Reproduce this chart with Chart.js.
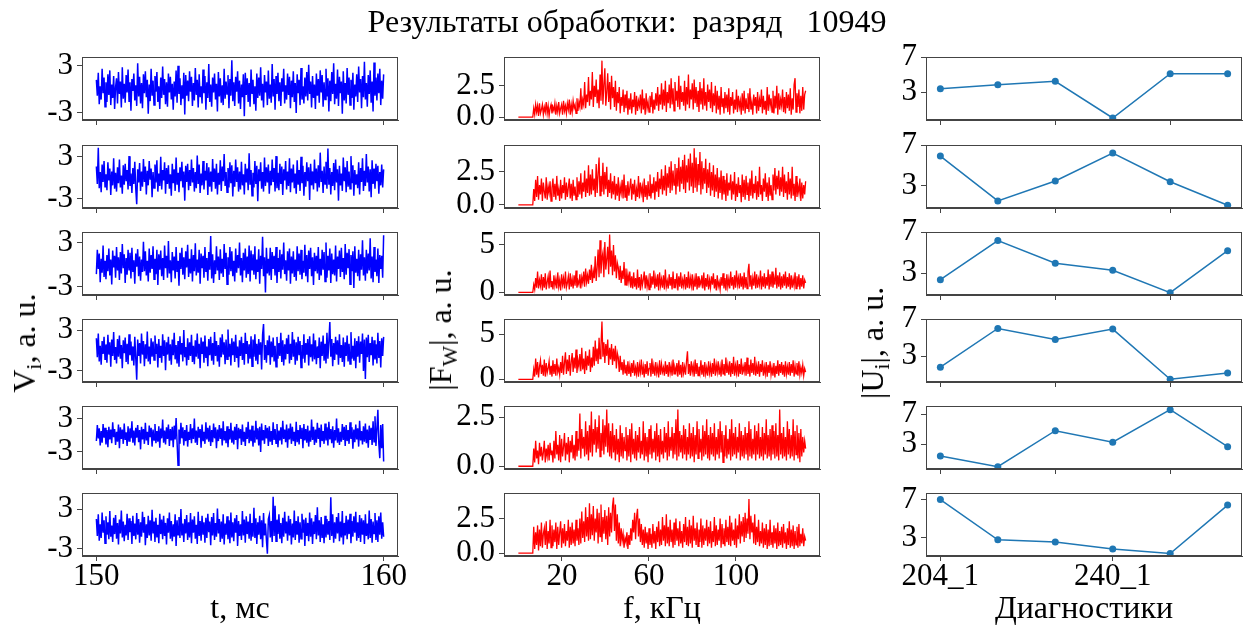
<!DOCTYPE html>
<html lang="ru">
<head>
<meta charset="UTF-8">
<title>Результаты обработки</title>
<script src="https://cdn.jsdelivr.net/npm/chart.js@4"></script>
<style>
  body { margin: 0; background: #fff; font-family: 'Liberation Serif', serif; }
  #page { position: relative; width: 1250px; height: 626px; overflow: hidden; background: #fff; }
  #page canvas { position: absolute; }
  .txt { position: absolute; white-space: pre; color: #000; font-size: 32px; line-height: 1; z-index: 2; }
  .title { left: 627px; top: 5px; transform: translateX(-50%); }
  .xlab { top: 591px; transform: translateX(-50%); }
  .ylab { transform: translate(-50%, -50%) rotate(-90deg); }
  sub { font-size: 0.68em; vertical-align: -0.28em; line-height: 0; }
</style>
</head>
<body>
<div id="page">
  <div class="txt title">Результаты обработки:  разряд   10949</div>
  <div class="txt xlab" style="left:240px">t, мс</div>
  <div class="txt xlab" style="left:662px">f, кГц</div>
  <div class="txt xlab" style="left:1084px">Диагностики</div>
  <div class="txt ylab" style="left:24px; top:343px">V<sub>i</sub>, a. u.</div>
  <div class="txt ylab" style="left:440px; top:330px">|F<sub>W</sub>|, a. u.</div>
  <div class="txt ylab" style="left:872px; top:343px">|U<sub>i</sub>|, a. u.</div>
</div>
<script>
// time window of the signals (ms) and frequency window of the spectra (kHz)
const tRange = [150, 160];
const fRange = [0, 132];

// signals V_i, one per row
const sig1 = [1.2,-0.8,2.1,-1.9,0.4,-1.3,2.6,-0.5,1.5,-2.2,0.9,-1.6,1.9,-0.7,2.4,-2.0,0.6,-1.1,1.7,-2.5,
  0.3,1.4,-1.8,2.2,-0.6,1.0,-2.3,2.8,-1.2,0.7,-1.7,1.8,-0.4,2.5,-1.5,0.9,-2.7,1.3,-0.2,2.0,
  -1.4,0.5,-2.1,3.3,-0.9,1.6,-1.8,0.8,-2.4,1.9,-0.5,2.3,-1.0,1.2,-3.1,0.6,-1.5,2.6,-0.8,1.1,
  -2.0,1.7,-0.3,2.2,-1.6,0.4,-2.5,1.5,-1.1,2.9,-0.7,1.3,-1.9,0.9,-2.2,2.0,-0.4,1.6,-1.3,0.7,
  -2.6,1.0,-0.9,2.4,-1.7,3.0,-0.6,1.4,-2.0,0.5,-1.2,2.1,-3.2,1.8,-0.8,1.1,-1.5,2.3,-0.3,1.6,
  -2.1,0.8,-1.4,2.7,-0.7,1.2,-2.3,1.9,-1.0,0.4,-1.8,2.5,-0.5,1.7,-2.6,0.9,-1.1,3.2,-1.6,0.6,
  -2.2,1.5,-0.4,2.0,-1.3,0.7,-2.8,2.2,-0.9,1.4,-1.7,0.5,-2.0,2.6,-1.2,1.0,-0.6,1.8,-2.4,1.3,
  -0.8,3.7,-1.5,0.9,-2.1,1.6,-0.3,2.3,-1.8,1.1,-2.5,0.6,-1.0,1.9,-3.4,2.1,-0.7,1.4,-1.6,0.8,
  -2.2,2.5,-0.5,1.2,-1.9,0.4,-2.7,2.0,-1.1,1.5,-0.8,2.8,-1.4,0.7,-2.3,1.8,-0.4,1.0,-2.0,2.4,
  -1.2,0.6,-1.7,3.2,-0.9,1.3,-2.6,1.7,-0.6,2.1,-1.5,0.9,-2.1,1.4,-0.3,2.6,-1.8,0.5,-1.3,2.0,
  -0.7,1.6,-2.4,1.1,-1.0,2.3,-1.6,0.8,-3.0,1.9,-0.5,1.2,-2.0,2.7,-1.3,0.4,-1.8,1.5,-0.9,2.2,
  -1.4,3.1,-0.6,1.0,-2.3,1.7,-1.1,0.6,-2.5,2.0,-0.8,1.3,-1.7,2.4,-0.4,1.8,-2.2,0.9,-1.3,2.6,
  -0.9,1.4,-2.8,1.1,-1.5,2.2,-0.6,3.3,-1.9,0.7,-1.2,2.5,-2.1,1.6,-0.5,1.0,-3.1,2.3,-1.4,0.8,
  -1.8,2.7,-0.7,1.5,-2.0,1.2,-1.1,2.1,-2.6,0.6,-0.9,1.9,-1.6,2.9,-0.4,1.3,-2.4,1.7,-1.0,3.5,
  -1.3,0.8,-2.2,1.8,-0.6,2.4,-1.7,1.0,-2.8,3.4,-0.8,1.5,-1.4,2.0,-0.5,2.6,-2.0,1.1,-1.2,1.9];
const sig2 = [1.6,-0.9,4.3,-1.5,0.8,-2.1,1.9,-0.6,2.4,-1.3,0.5,-1.8,2.2,-0.4,1.3,-2.5,0.9,-1.1,2.8,-1.6,
  0.7,-2.0,1.5,-0.8,2.6,-1.4,0.3,-2.3,1.8,-1.0,2.0,-0.5,1.1,-1.7,3.1,-1.2,0.6,-2.2,1.4,-0.9,
  2.3,-1.6,-3.8,1.2,-0.7,2.1,-1.9,0.9,-1.3,2.7,-0.6,1.6,-2.4,1.0,-1.1,2.4,-0.3,1.3,-2.8,0.8,
  -1.5,1.9,-0.7,2.5,-2.0,0.6,-1.2,3.0,-1.7,1.1,-0.4,2.2,-2.3,1.4,-0.9,1.8,-1.6,0.5,-2.6,2.0,
  -0.8,1.2,-1.9,2.9,-1.0,0.7,-2.1,1.5,-0.5,2.3,-1.4,0.9,-3.3,1.7,-0.6,2.0,-1.8,1.1,-1.2,2.6,
  -0.7,1.4,-2.0,0.8,-1.5,3.2,-0.9,1.9,-2.2,0.6,-1.1,2.4,-1.7,1.0,-0.4,2.1,-2.5,1.5,-1.3,0.9,
  -2.0,2.7,-0.6,1.3,-1.6,2.0,-2.4,0.7,-1.0,2.5,-1.9,1.6,-0.5,3.4,-1.2,0.8,-2.1,1.4,-1.4,2.2,
  -0.8,1.8,-2.7,1.0,-1.3,2.6,-0.6,1.5,-2.0,0.9,-1.7,2.3,-1.1,0.5,-2.4,2.0,-0.7,1.3,-1.8,3.5,
  -1.0,1.1,-2.6,0.7,-1.4,2.4,-0.9,1.7,-3.4,1.2,-0.5,2.2,-1.6,0.8,-2.0,2.9,-1.2,1.5,-0.7,1.9,
  -2.3,1.0,-1.1,2.6,-0.6,1.4,-2.0,3.1,-1.5,0.7,-1.8,2.0,-0.9,1.6,-2.5,1.2,-0.4,2.4,-1.7,0.9,
  -1.2,2.8,-2.1,1.3,-0.7,1.9,-1.5,0.6,-2.3,2.5,-1.0,1.1,-1.9,3.0,-0.8,1.7,-2.6,0.8,-1.3,2.2,
  -0.5,1.5,-3.2,2.0,-1.1,0.9,-1.7,2.6,-0.8,1.3,-2.0,1.8,-1.4,3.6,-0.6,1.0,-2.2,1.6,-0.9,2.3,
  -1.6,4.2,-1.0,1.4,-2.4,0.8,-1.2,2.1,-1.8,2.6,-0.7,1.2,-3.3,1.7,-1.1,0.6,-1.9,2.9,-0.5,1.5,
  -2.1,2.4,-1.3,0.9,-1.6,3.1,-0.8,1.8,-2.6,1.1,-1.0,0.5,-1.5,2.2,-2.4,1.4,-0.6,2.8,-1.9,1.0,
  -1.2,3.4,-0.7,1.6,-2.0,1.2,-2.8,2.5,-0.9,1.3,-1.6,2.0,-0.5,1.7,-2.3,0.8,-1.1,1.9,-1.4,1.2];
const sig3 = [-1.3,2.0,-0.6,1.5,-2.4,0.8,-1.1,2.6,-1.7,0.5,-2.0,1.3,-0.9,2.2,-1.5,0.7,-2.7,1.9,-0.4,1.2,
  -1.8,2.4,-0.8,1.0,-2.1,1.7,-1.2,2.8,-0.5,1.4,-2.5,0.9,-1.4,2.0,-0.7,1.6,-1.9,2.3,-1.0,0.6,
  -2.6,1.5,-0.3,2.1,-1.6,1.1,-2.2,0.7,-1.0,3.1,-0.9,1.8,-1.5,0.5,-2.3,2.2,-1.1,1.3,-0.6,2.5,
  -2.0,0.8,-1.3,2.0,-2.8,1.4,-0.7,1.9,-1.6,0.9,-2.1,2.6,-0.5,1.2,-1.8,3.2,-1.2,0.6,-2.4,1.7,
  -0.8,1.1,-1.9,2.4,-1.0,0.5,-2.9,1.6,-0.6,2.3,-1.4,1.0,-2.0,1.8,-0.4,2.7,-1.7,0.8,-1.2,2.1,
  -2.3,1.3,-0.9,2.9,-1.5,0.7,-1.1,2.0,-2.6,1.5,-0.5,1.2,-1.8,2.4,-1.0,0.9,-2.2,1.7,-0.7,3.9,
  -1.9,1.4,-2.5,0.6,-1.3,2.5,-0.8,1.1,-2.1,2.1,-1.2,0.8,-1.7,2.8,-0.6,1.6,-2.7,1.0,-1.4,2.4,
  -0.9,1.8,-1.6,0.5,-2.3,2.2,-1.1,1.3,-0.5,3.0,-1.5,0.9,-2.4,1.6,-0.8,2.2,-1.8,1.1,-1.3,2.6,
  -2.3,1.9,-0.7,1.4,-1.4,2.5,-2.0,0.7,-1.0,2.1,-2.6,1.2,-0.6,3.8,-1.6,1.0,-3.8,2.3,-1.2,0.8,
  -1.5,2.3,-2.1,1.7,-0.6,1.2,-1.5,2.4,-2.5,0.9,-1.0,2.0,-1.9,1.4,-0.7,3.0,-1.3,0.6,-2.2,1.8,
  -0.8,2.2,-2.6,1.1,-1.2,1.8,-1.7,0.7,-2.2,2.5,-0.9,1.5,-1.4,2.0,-2.0,0.5,-1.1,2.7,-1.6,1.3,
  -2.4,1.9,-0.6,2.3,-1.6,1.0,-2.8,1.6,-0.9,1.2,-1.2,2.4,-2.1,0.8,-1.5,2.0,-0.7,1.7,-2.3,3.0,
  -1.8,1.2,-0.8,2.2,-2.5,1.5,-1.3,0.7,-1.5,2.6,-2.3,1.1,-0.6,1.9,-1.7,2.3,-1.0,0.9,-2.0,2.8,
  -1.4,1.6,-0.5,2.1,-2.7,1.3,-0.9,1.8,-3.2,2.5,-1.1,0.8,-1.6,2.0,-2.2,1.4,-0.7,3.3,-1.5,1.0,
  -2.2,2.0,-1.2,1.5,-0.8,3.6,-1.9,1.1,-2.4,2.4,-1.0,0.7,-1.6,2.2,-2.5,1.3,-0.6,1.2,-1.8,4.0];
const sig4 = [1.8,-1.0,2.5,-1.6,0.7,-2.1,1.4,-0.5,2.0,-1.3,0.9,-1.8,2.3,-0.6,1.2,-2.4,1.6,-0.8,2.7,-1.4,
  0.5,-1.9,1.7,-0.9,2.2,-1.2,0.8,-2.6,1.5,-0.4,1.9,-1.7,1.0,-2.0,2.4,-0.7,1.3,-1.5,0.6,-2.2,
  2.0,-1.1,-4.3,1.6,-0.8,1.1,-1.9,2.5,-0.6,1.4,-2.3,0.9,-1.2,2.8,-1.6,0.6,-2.0,1.8,-0.9,1.3,
  -1.4,2.2,-0.5,1.0,-2.5,1.7,-1.1,0.7,-1.8,2.4,-0.8,1.5,-2.9,1.2,-0.6,2.0,-1.5,0.9,-2.1,1.6,
  -0.7,2.6,-1.3,0.8,-1.9,1.4,-2.4,2.1,-0.6,1.1,-1.6,3.0,-1.0,0.5,-2.2,1.8,-1.4,1.2,-0.8,2.3,
  -1.7,0.7,-2.0,1.5,-0.9,2.5,-1.2,1.0,-2.6,1.9,-0.5,1.3,-1.8,2.2,-1.1,0.6,-2.3,1.7,-0.7,2.0,
  -1.5,1.1,-2.1,2.7,-0.8,1.4,-1.6,0.8,-2.4,1.9,-1.0,2.4,-0.6,1.2,-2.0,1.6,-1.3,3.1,-0.9,1.0,
  -2.2,1.8,-0.7,1.3,-1.7,2.3,-1.1,0.6,-2.5,1.5,-0.8,2.0,-1.4,1.1,-2.1,2.6,-0.5,1.4,-1.9,0.9,
  -1.2,2.1,-2.3,1.6,-0.9,2.4,-1.5,1.0,-2.0,1.7,-0.6,1.2,-2.8,2.3,3.9,-1.4,0.8,-1.8,1.5,-0.7,
  2.2,-2.1,1.3,-1.0,1.9,-1.6,0.7,-2.4,2.0,-1.2,1.1,-0.8,2.6,-1.7,1.5,-2.2,0.9,-1.3,1.8,-0.5,
  2.3,-1.9,1.0,-1.4,2.7,-0.9,1.6,-2.1,1.2,-1.5,2.0,-0.7,1.4,-2.5,0.8,-1.2,2.4,-1.8,1.1,-0.6,
  1.7,-2.2,2.1,-1.0,0.9,-1.6,2.5,-1.3,1.5,-2.0,0.6,-1.1,1.9,-2.6,1.3,-0.8,2.2,-1.5,1.0,-1.9,
  2.6,-1.2,1.4,4.2,-0.9,1.7,-2.3,1.1,-1.4,2.0,-0.6,1.5,-2.1,2.4,-1.1,0.8,-1.7,1.9,-2.4,1.2,
  -0.8,2.2,-1.6,1.0,-2.0,2.7,-1.2,0.7,-1.5,1.8,-2.6,1.4,-0.9,2.1,-1.8,1.3,-0.5,2.5,-3.0,1.6,
  -4.2,1.9,-1.0,2.3,-1.7,1.1,-0.7,2.0,-2.2,1.5,-1.3,0.9,-1.9,2.6,-1.1,1.4,-2.5,1.8,-0.8,2.0];
const sig5 = [-1.1,1.8,-0.6,1.2,-1.9,0.7,-1.4,2.0,-0.5,1.3,-1.7,0.9,-2.2,1.5,-0.8,1.0,-1.5,2.3,-0.4,1.1,
  -1.8,0.6,-1.2,1.9,-2.4,1.4,-0.7,1.0,-1.6,2.1,-0.9,0.5,-2.0,1.6,-1.1,1.2,-0.6,2.5,-1.4,0.8,
  -1.9,1.3,-0.5,1.8,-1.3,0.9,-2.6,1.5,-0.8,1.1,-1.6,2.2,-1.0,0.6,-1.8,1.7,-0.4,1.3,-2.1,1.0,
  -0.9,2.0,-1.5,0.7,-1.2,1.6,-2.3,1.2,-0.6,2.8,-1.4,0.8,-1.7,1.4,-0.7,1.9,-2.0,1.1,-1.0,1.5,
  -2.2,1.7,-0.8,3.1,-1.3,-5.5,1.0,-1.6,2.2,-0.6,1.4,-1.9,0.9,-1.1,1.8,-2.1,0.6,-0.9,2.0,-1.5,
  1.2,-0.7,3.0,-1.4,0.8,-1.8,1.5,-0.5,1.1,-2.3,1.9,-1.0,0.6,-1.6,2.3,-0.8,1.3,-1.2,1.7,-2.0,
  0.9,-1.3,2.1,-0.6,1.4,-2.4,1.0,-1.1,1.8,-0.7,1.2,-1.9,2.5,-1.0,0.7,-1.5,1.6,-2.2,1.1,-0.8,
  2.2,-1.4,0.8,-1.7,1.5,-0.9,2.0,-2.6,1.3,-0.6,1.1,-1.8,1.9,-1.2,0.6,-2.0,1.4,-0.7,2.4,-1.5,
  1.0,-1.1,1.7,-2.1,0.8,-1.4,2.6,-0.8,1.2,-1.9,1.5,-3.1,2.1,-1.0,0.9,-1.6,1.8,-0.6,1.3,-2.0,
  1.6,-1.2,0.7,-1.8,2.3,-0.9,1.1,-1.5,2.0,-2.2,0.8,-1.0,1.4,-1.7,2.6,-0.7,1.0,-1.3,1.9,-2.3,
  1.2,-0.8,2.1,-1.6,1.5,-1.1,0.6,-2.0,2.4,-1.3,0.9,-1.7,1.8,-0.6,1.3,-2.4,2.0,-1.0,1.1,-1.4,
  1.7,-2.1,0.8,-1.2,2.8,-0.9,1.5,-1.8,1.0,-1.4,2.2,-0.7,1.3,-2.2,1.9,-1.1,0.7,-1.6,2.1,-1.0,
  1.4,-1.9,2.4,-0.8,1.1,-1.5,1.6,-2.3,0.9,-1.0,3.0,-1.4,1.2,-1.8,0.6,-1.2,2.0,-0.9,1.5,-2.0,
  1.8,-1.1,0.9,-1.6,2.3,-0.7,1.4,-2.5,1.0,-1.3,1.9,-0.8,1.2,-2.1,2.6,-1.0,0.7,-1.7,1.6,-1.2,
  2.1,-1.5,1.0,-2.3,1.7,-0.9,1.3,-1.8,2.5,-1.2,3.4,-2.0,1.1,4.6,-1.6,-4.2,1.8,-2.4,2.0,-4.8];
const sig6 = [1.5,-1.1,2.2,-1.8,0.7,-1.4,2.5,-0.6,1.3,-2.2,1.9,-0.9,1.0,-1.6,2.7,-1.2,0.5,-2.0,1.7,-0.8,
  2.1,-1.5,0.9,-2.4,1.4,-0.7,2.8,-1.3,1.1,-1.9,0.6,-1.0,2.3,-1.7,1.6,-0.5,1.2,-2.3,2.0,-1.1,
  0.8,-1.6,2.4,-0.9,1.5,-2.1,1.0,-1.2,2.6,-0.6,1.8,-2.5,0.7,-1.4,2.0,-1.0,1.3,-1.8,2.9,-0.7,
  1.1,-2.0,1.7,-1.3,0.6,-2.2,2.3,-0.8,1.4,-1.6,2.0,-1.1,0.9,-2.4,1.6,-0.6,2.5,-1.5,1.2,-1.9,
  0.7,-1.2,2.2,-2.6,1.3,-0.9,1.8,-1.4,3.0,-1.0,0.8,-2.0,1.5,-0.7,2.1,-1.7,1.0,-1.3,2.4,-2.2,
  1.4,-0.6,1.9,-1.5,0.6,-2.3,2.6,-1.1,1.2,-1.8,2.0,-0.8,1.0,-2.1,1.7,-1.4,2.3,-0.5,1.1,-2.5,
  1.8,-1.0,2.4,-1.7,0.9,-1.2,3.1,-0.7,1.5,-2.0,1.1,-1.5,2.2,-2.4,0.8,-0.9,1.9,-1.6,1.3,-2.2,
  2.5,-1.3,1.0,-1.9,1.6,-0.6,2.1,-2.6,1.2,-1.1,0.7,-1.7,2.7,-1.0,1.4,-2.1,1.9,-0.8,1.1,-1.5,
  2.3,-1.8,0.9,-1.2,3.2,-1.4,1.6,-2.3,1.0,-0.9,2.0,-1.6,1.3,-2.8,2.4,-1.0,0.8,-1.7,-3.8,1.5,
  2.1,-1.3,1.2,-2.0,4.9,-1.1,3.5,-1.9,1.4,-0.8,2.2,-1.5,0.9,-2.2,1.7,-1.2,2.6,-0.7,1.1,-1.8,
  2.0,-1.0,1.5,-2.4,0.8,-1.3,2.8,-1.7,1.2,-0.9,1.9,-2.1,1.0,-1.5,2.3,-0.6,1.4,-2.6,1.7,-1.1,
  0.9,-1.9,2.5,-1.2,1.6,-2.3,1.1,-0.8,2.1,-1.6,3.3,-1.0,1.3,-2.0,1.8,-1.4,0.7,-2.2,2.0,-1.3,
  1.5,-0.9,1.2,-1.7,4.8,-1.1,2.2,-2.1,1.0,-1.5,1.8,-0.7,2.4,-1.9,1.1,-1.3,2.7,-2.4,0.9,-1.0,
  2.0,-1.6,1.4,-0.8,2.3,-2.2,1.2,-1.2,1.9,-0.6,2.6,-1.8,1.0,-1.4,2.1,-2.0,1.6,-0.9,1.3,-2.3,
  2.2,-1.1,0.8,-1.6,2.8,-1.4,1.5,-2.1,1.1,-0.7,2.4,-1.7,1.3,-2.0,1.9,-0.9,2.5,-1.5,1.0,-1.2];

// spectra |F_W|, one per row (flat zero below ~7 kHz)
const spec1 = [0,0,0,0,0,0,0,0,0,0,0,0,0,0,0,0,
  0.7,0.2,1.0,0.4,0.9,0.1,1.1,0.3,0.6,1.0,0.2,0.8,0.4,1.2,0.3,0.9,0.1,0.7,1.0,0.3,
  0.8,0.5,1.1,0.2,0.9,0.4,1.2,0.3,0.7,1.0,0.2,1.3,0.5,0.9,0.3,1.1,0.6,1.4,0.2,1.0,
  0.4,1.3,0.7,1.0,0.3,1.5,0.5,1.2,0.8,2.3,0.6,1.4,1.0,2.8,0.7,1.8,1.2,3.2,0.9,2.1,
  1.4,3.6,0.8,2.5,1.6,3.0,1.1,2.2,0.7,3.4,1.3,4.5,1.0,2.6,3.9,0.9,2.0,3.5,1.2,2.8,
  0.6,3.3,1.5,2.4,0.8,2.9,0.5,2.0,1.1,2.4,0.3,1.6,0.9,2.2,0.4,1.8,0.7,2.1,0.2,1.5,
  0.6,1.9,0.3,1.4,0.8,2.0,0.2,1.7,0.5,1.3,0.9,1.8,0.3,2.2,0.6,1.5,0.2,1.9,0.7,1.2,
  0.4,1.7,0.8,2.0,0.3,1.4,0.6,1.9,0.9,2.4,0.5,1.8,1.0,2.7,0.6,2.2,0.9,2.9,0.4,2.0,
  1.1,2.6,0.7,3.1,1.0,2.3,0.5,2.8,1.3,2.1,0.8,3.3,0.6,2.5,1.2,2.0,0.9,2.9,0.5,2.4,
  1.0,3.4,0.7,2.2,1.4,2.7,0.6,3.0,1.1,2.4,0.8,2.1,0.4,2.8,1.0,2.3,0.6,3.1,0.9,2.0,
  0.5,2.6,1.2,2.2,0.7,2.8,0.4,1.9,0.9,2.5,0.3,2.1,0.6,1.7,0.2,2.4,0.8,1.5,0.3,2.0,
  0.7,1.8,0.4,2.3,0.2,1.6,0.9,2.0,0.3,1.4,0.6,2.2,0.4,1.7,0.8,1.3,0.2,1.9,0.5,2.1,
  0.3,1.5,0.7,1.9,0.4,2.3,0.6,1.2,0.2,1.8,0.9,1.6,0.3,2.0,0.5,1.4,0.8,2.2,0.3,1.7,
  0.6,1.3,0.2,2.4,0.5,1.8,0.9,1.5,0.4,2.1,0.3,1.7,0.7,2.5,0.2,1.9,0.6,1.4,0.9,2.2,
  0.4,1.6,0.3,2.0,0.7,1.8,0.5,2.3,0.2,1.5,0.6,2.6,3.1,0.4,1.9,0.8,2.2,0.3,1.7,0.5,
  2.4,0.6,1.8,2.1];
const spec2 = [0,0,0,0,0,0,0,0,0,0,0,0,0,0,0,0,
  1.2,0.3,1.9,0.6,2.2,0.4,1.5,0.8,2.0,0.3,1.7,1.0,0.5,2.1,0.4,1.4,0.9,1.8,0.3,1.3,
  2.0,0.6,1.6,0.4,2.2,0.7,1.2,0.3,1.9,0.5,1.5,0.9,2.1,0.4,1.7,0.6,1.3,2.0,0.5,1.6,
  0.3,1.9,0.7,1.4,0.4,2.1,0.6,1.8,0.8,2.4,0.5,1.7,1.0,2.6,0.6,2.0,0.9,3.0,0.7,2.3,
  0.8,2.7,1.1,2.0,0.6,3.1,0.9,2.4,3.6,0.7,2.2,1.0,3.2,0.8,2.5,1.2,2.9,0.6,1.9,0.9,
  2.4,0.5,1.8,0.8,2.2,0.4,1.6,0.7,2.1,0.3,1.4,0.9,1.9,0.5,2.3,0.6,1.5,0.3,1.8,0.7,
  1.3,2.0,0.4,1.6,0.8,1.9,0.3,1.2,0.6,2.2,0.5,1.7,0.9,1.4,0.2,2.0,0.6,1.5,0.4,1.8,
  0.7,2.3,0.5,1.6,0.9,2.1,0.4,1.8,1.0,2.5,0.6,2.0,1.2,2.7,0.8,2.2,1.1,3.0,0.7,2.4,
  1.3,2.9,0.9,3.3,1.1,2.6,1.5,3.1,0.8,2.8,1.4,3.6,1.0,2.9,1.6,3.4,1.2,3.8,0.9,3.0,
  1.7,3.5,1.1,3.9,1.4,3.2,0.9,4.3,1.3,3.6,1.0,3.1,1.5,4.0,0.8,3.3,1.2,2.8,1.6,3.5,
  0.9,2.7,1.3,3.2,0.7,2.5,1.1,3.0,0.6,2.3,1.0,2.8,0.5,2.1,0.9,2.6,0.4,2.2,0.8,1.9,
  0.3,2.4,0.7,1.7,1.1,2.3,0.4,1.8,0.8,2.5,0.3,1.6,0.6,2.1,0.9,1.5,0.2,2.3,0.6,1.9,
  0.4,2.2,0.8,1.7,0.3,2.0,0.7,2.6,0.5,1.6,0.9,2.2,0.4,1.8,0.6,2.9,0.8,1.5,0.3,2.0,
  1.0,2.4,0.6,1.7,0.3,2.1,0.7,1.5,0.4,2.3,1.1,2.8,0.8,2.2,1.2,2.6,0.7,2.1,1.0,2.9,
  0.6,2.3,0.9,1.8,0.4,2.5,0.8,2.0,0.5,2.9,0.7,1.6,0.3,2.2,0.6,1.4,0.9,2.0,0.3,1.7,
  0.5,1.5,0.8,1.8];
const spec3 = [0,0,0,0,0,0,0,0,0,0,0,0,0,0,0,0,
  0.8,0.3,1.5,0.5,2.2,0.4,1.3,0.7,1.9,0.2,1.6,0.5,2.0,0.3,1.1,1.7,0.4,2.3,0.6,1.2,
  0.3,1.8,0.7,1.4,0.4,2.1,0.6,1.3,0.2,1.9,0.8,1.5,0.4,2.2,0.5,1.0,1.7,0.3,2.0,0.6,
  1.4,0.4,1.8,0.7,2.3,0.5,1.2,0.8,1.9,0.4,1.6,1.0,2.2,0.6,2.5,1.1,1.8,0.9,2.4,1.3,
  2.9,1.0,2.2,1.5,3.8,1.2,2.6,4.5,1.6,5.5,2.0,3.6,4.2,1.6,5.3,2.4,3.5,4.8,1.9,6.1,
  2.7,4.4,1.8,5.0,2.2,3.9,1.5,3.1,2.6,1.3,2.8,1.0,2.3,1.4,3.2,0.8,2.5,0.7,1.9,1.1,
  2.2,0.5,1.7,0.4,2.1,0.6,1.5,0.3,2.4,0.5,1.6,0.2,1.9,0.7,1.3,2.2,0.4,1.8,0.6,1.4,
  0.3,2.0,0.5,1.7,0.8,2.3,0.4,1.5,0.6,1.9,0.2,2.1,0.7,1.4,0.5,1.8,0.3,2.4,0.6,1.2,
  0.4,1.9,0.7,1.6,0.3,2.2,0.5,1.4,0.8,2.0,0.2,1.7,0.6,2.1,0.4,1.3,0.7,1.9,0.3,1.6,
  0.5,2.2,0.4,1.5,0.7,1.9,0.2,1.4,0.6,2.0,0.3,1.7,0.5,1.2,0.8,1.8,0.4,2.1,0.2,1.5,
  0.6,1.9,0.3,1.3,0.5,1.7,0.8,2.0,0.4,1.4,0.2,1.8,0.6,1.1,0.3,1.6,0.7,2.0,0.4,1.5,
  0.2,1.9,0.6,1.4,0.4,2.2,0.7,1.6,0.3,1.8,0.5,2.3,0.8,1.5,0.4,2.0,0.6,1.7,0.3,2.1,
  0.5,1.6,0.4,2.2,3.0,0.6,1.8,0.3,1.5,0.7,2.2,0.4,1.9,0.5,1.4,0.8,2.3,0.3,1.7,0.6,
  2.0,0.4,1.6,0.7,2.4,0.3,1.9,0.6,2.2,0.5,1.5,0.8,2.6,0.4,1.8,0.6,2.1,0.3,1.7,0.5,
  1.9,0.7,2.2,0.4,1.6,0.6,2.0,0.3,1.8,0.5,1.4,0.7,2.1,0.4,1.7,0.6,1.9,0.3,1.5,0.6,
  1.8,0.4,1.3,1.0];
const spec4 = [0,0,0,0,0,0,0,0,0,0,0,0,0,0,0,0,
  1.1,0.3,2.3,0.5,1.9,0.2,1.4,2.1,0.6,1.6,0.4,2.2,0.3,1.8,0.7,1.2,2.0,0.5,1.5,0.3,
  2.1,0.6,1.7,0.4,2.3,0.8,1.3,0.5,1.9,0.7,2.6,0.5,1.8,3.0,0.6,2.2,0.9,2.7,0.4,1.9,
  2.9,0.8,2.4,1.2,3.3,0.7,2.1,1.4,2.8,0.9,3.5,1.1,2.3,0.6,3.1,1.0,2.6,1.5,3.3,0.8,
  2.4,1.3,3.6,1.5,4.3,2.0,3.4,1.7,4.6,2.3,3.8,6.4,2.5,4.1,1.8,3.9,2.6,4.4,1.6,3.5,
  2.2,3.9,1.6,3.4,2.0,3.7,1.2,2.9,2.4,0.8,2.6,1.0,1.9,0.5,2.2,0.7,1.6,0.4,2.0,0.6,
  1.5,0.3,1.8,0.7,2.1,0.4,1.3,0.6,1.9,0.3,1.6,0.8,2.2,0.5,1.4,0.2,1.7,0.6,2.0,0.4,
  1.2,1.8,0.3,2.3,0.6,1.5,0.4,1.9,0.7,1.4,0.2,2.1,0.5,1.7,0.8,1.3,0.4,2.0,0.6,1.6,
  0.3,1.9,0.7,1.5,0.4,2.2,0.6,1.3,0.8,1.8,0.3,2.1,0.5,1.6,0.2,1.9,0.7,1.4,0.5,2.0,
  3.1,0.6,1.7,0.4,2.0,0.8,1.5,0.3,2.2,0.6,1.8,0.4,1.4,0.7,2.1,0.5,1.6,0.3,1.9,0.6,
  1.3,0.4,2.0,0.7,1.5,0.3,1.8,0.6,2.3,0.4,1.6,0.8,2.0,0.5,1.4,0.3,2.2,0.6,1.7,0.4,
  2.4,0.7,1.6,0.5,2.0,0.3,1.8,0.6,2.5,0.4,1.5,0.7,2.1,0.3,1.7,0.6,2.3,0.5,1.4,0.8,
  1.9,0.4,2.4,0.6,1.6,0.3,2.2,0.7,1.8,0.5,2.5,0.4,1.5,0.6,2.0,0.3,1.7,0.8,2.1,0.4,
  1.4,0.6,1.9,0.3,1.6,0.7,2.0,0.5,1.3,0.4,1.8,0.2,1.5,0.6,2.1,0.4,1.7,0.7,1.9,0.5,
  1.6,0.3,2.0,0.6,1.4,0.5,1.9,0.4,1.7,0.7,2.1,0.3,1.5,0.6,1.8,0.4,2.0,0.5,1.3,0.7,
  1.6,0.4,1.2,0.8];
const spec5 = [0,0,0,0,0,0,0,0,0,0,0,0,0,0,0,0,
  0.9,0.2,1.3,0.4,0.8,0.1,1.2,0.5,1.0,0.3,0.7,1.3,0.2,0.9,0.5,1.1,0.3,1.2,0.6,0.8,
  0.2,1.3,0.4,1.8,0.6,1.1,0.3,1.6,0.2,1.4,0.5,1.0,1.7,0.3,1.2,0.6,1.5,0.2,1.3,0.7,
  1.6,0.4,1.1,0.3,1.8,0.5,1.4,0.8,2.7,0.4,1.9,0.9,1.5,0.5,2.3,0.6,1.8,0.3,2.1,0.7,
  2.8,0.5,1.9,1.1,2.4,0.7,2.0,0.9,2.6,0.5,1.7,0.8,2.4,0.6,2.1,1.0,2.9,0.7,2.2,0.5,
  1.8,0.4,2.2,0.7,1.6,0.3,1.9,0.6,1.4,0.2,2.1,0.5,1.7,0.4,1.5,0.8,2.0,0.3,1.6,0.5,
  1.9,0.2,2.2,0.6,1.4,0.4,1.8,0.3,1.6,0.7,2.0,0.4,1.3,0.6,2.3,0.3,1.7,0.5,1.5,0.2,
  1.9,0.6,2.1,0.4,1.4,0.7,1.8,0.3,2.2,0.5,1.6,0.2,1.9,0.6,1.3,0.4,2.0,0.7,1.7,0.3,
  2.3,0.5,1.5,0.8,2.0,0.4,1.7,0.6,2.4,0.3,2.9,0.5,1.8,0.7,1.6,0.4,2.1,0.6,1.9,0.3,
  1.5,0.6,2.2,0.4,1.7,0.5,2.0,0.2,1.6,0.6,2.3,0.4,1.9,0.7,1.4,0.3,2.1,0.5,1.8,0.6,
  2.4,0.4,1.6,0.3,2.0,0.6,1.7,0.5,2.2,0.3,1.5,0.6,1.9,0.4,2.3,0.7,1.8,0.2,1.6,0.5,
  2.1,0.4,1.4,0.6,1.9,0.3,2.4,0.5,1.7,0.6,2.0,0.4,1.5,0.7,2.2,0.3,1.8,0.5,1.6,0.4,
  2.0,0.6,1.7,0.3,2.3,0.5,1.9,0.4,1.4,0.6,2.1,0.3,1.8,0.6,2.2,0.4,1.5,0.5,2.0,0.3,
  1.7,0.6,2.4,0.4,1.6,0.5,1.9,0.3,2.1,0.6,1.8,0.4,2.2,0.5,1.6,0.3,2.9,0.6,1.7,0.4,
  2.0,0.5,1.5,0.3,2.3,0.6,1.9,0.4,1.6,0.5,2.4,0.3,1.8,0.6,2.1,0.4,1.7,0.2,1.9,0.5,
  1.5,0.7,1.3,0.9];
const spec6 = [0,0,0,0,0,0,0,0,0,0,0,0,0,0,0,0,
  1.9,0.3,1.5,0.6,2.0,0.2,1.7,0.5,2.2,0.4,1.4,1.8,0.6,2.3,0.3,1.6,0.7,2.4,0.4,2.0,
  0.5,1.7,0.8,2.2,0.3,1.9,0.6,1.5,2.3,0.4,1.8,0.7,2.1,0.5,1.6,0.9,2.4,0.4,1.9,0.6,
  2.2,0.7,1.7,0.5,2.4,0.9,1.8,0.6,2.5,0.7,3.0,1.1,2.3,0.8,3.3,1.2,2.6,0.9,3.6,1.0,
  2.8,1.3,3.4,0.9,2.5,1.5,3.2,0.7,2.9,1.2,3.5,0.8,2.6,1.4,3.1,1.0,2.7,0.6,3.3,1.2,
  2.9,1.5,3.4,4.0,1.6,3.5,0.9,2.8,0.7,2.2,0.5,1.8,0.9,1.4,0.4,1.1,0.8,1.5,0.3,1.3,
  0.6,1.8,0.9,2.4,1.5,2.9,1.0,2.6,3.2,1.2,2.5,0.8,2.1,0.6,1.7,0.4,1.9,0.7,1.5,0.3,
  1.8,0.6,1.4,0.4,2.1,0.7,1.6,0.3,1.9,0.8,2.3,0.5,1.7,0.6,2.6,0.9,2.0,0.5,2.8,0.7,
  1.9,0.5,2.4,0.8,1.7,0.4,2.2,0.6,2.5,0.9,1.8,0.5,2.3,0.7,1.6,0.4,2.1,0.8,2.6,0.6,
  1.9,0.5,2.4,0.7,2.0,0.4,2.7,0.9,1.8,0.6,2.2,0.5,1.7,0.8,2.5,0.4,2.0,0.6,1.8,0.9,
  2.4,0.5,1.9,0.7,2.3,0.4,1.6,0.8,2.6,0.5,2.0,0.6,1.7,0.9,2.5,0.4,2.1,0.7,1.8,0.5,
  2.4,0.8,1.9,0.6,2.7,0.5,2.2,0.9,1.7,0.6,2.5,0.4,2.0,1.0,2.8,0.7,2.3,1.2,2.6,0.8,
  2.9,1.1,2.5,1.4,3.9,1.0,2.7,1.5,2.2,0.7,2.8,0.6,1.9,0.8,2.4,0.5,1.6,0.7,2.2,0.4,
  1.8,0.6,2.1,0.3,1.7,0.5,2.4,0.6,1.5,0.4,2.0,0.7,1.8,0.3,2.2,0.5,1.6,0.6,1.9,0.4,
  2.1,0.7,1.5,0.3,1.8,0.6,2.3,0.4,1.7,0.5,2.0,0.3,1.6,0.6,1.9,0.4,2.1,0.5,1.4,0.7,
  1.8,0.5,1.2,0.9];

// |U_i| per diagnostic, one list per row
const diagPos = [0, 1, 2, 3, 4, 5];
const amp1 = [3.41, 3.86, 4.25, 0.09, 5.11, 5.11];
const amp2 = [5.91, 1.51, 3.47, 6.21, 3.40, 1.09];
const amp3 = [2.35, 6.17, 3.96, 3.27, 1.09, 5.18];
const amp4 = [1.80, 5.98, 4.78, 5.91, 0.49, 1.18];
const amp5 = [1.44, 0.01, 4.81, 3.27, 7.61, 2.68];
const amp6 = [6.99, 2.79, 2.55, 1.82, 1.36, 6.41];

// ticks
const timeTicks = [150, 160];
const timeLabels = ['150', '160'];
const sigTicks = [-3, 3];
const sigLabels = ['-3', '3'];
const freqTicks = [20, 60, 100];
const freqLabels = ['20', '60', '100'];
const specTicks = [[0, 2.5], [0, 2.5], [0, 5], [0, 5], [0, 2.5], [0, 2.5]];
const specLabels = [['0.0', '2.5'], ['0.0', '2.5'], ['0', '5'], ['0', '5'], ['0.0', '2.5'], ['0.0', '2.5']];
const diagTicks = [0, 2, 4];
const diagLastTicks = [0, 3];
const diagLabels = ['204_1', '240_1'];
const ampTicks = [3, 7];
const ampLabels = ['3', '7'];

// axis limits per row
const sigLimits = [[-3.89, 4.1], [-4.36, 4.7], [-4.15, 4.44], [-4.63, 4.63], [-6.17, 5.27], [-4.14, 5.46]];
const specLimits = [[-0.23, 4.79], [-0.23, 4.54], [-0.28, 6.36], [-0.3, 6.68], [-0.14, 3.08], [-0.2, 4.33]];
const ampLimits = [[-0.14, 7], [0.82, 7], [0.86, 7], [0.2, 7], [-0.29, 8.1], [1.1, 7.67]];

const signals = [sig1, sig2, sig3, sig4, sig5, sig6];
const spectra = [spec1, spec2, spec3, spec4, spec5, spec6];
const amps = [amp1, amp2, amp3, amp4, amp5, amp6];

const serif = "'Liberation Serif', serif";
Chart.defaults.font.family = serif;
Chart.defaults.color = '#000';

// panel boxes
const boxW = 316, boxH = 63;
const colLeft = [82, 504, 926];
const rowTop = [57, 145, 232, 319, 406, 493];
const padL = 72, padR = 40, padT = 20;
const page = document.getElementById('page');

// evenly spaced sample positions across a window
function samples(range, n) {
  const step = (range[1] - range[0]) / (n - 1);
  return Array.from({ length: n }, (_, i) => range[0] + i * step);
}

// full box around the plot area, like a matplotlib axes frame
const frame = {
  id: 'frame',
  afterDraw(chart) {
    const { ctx, chartArea: a } = chart;
    ctx.save();
    ctx.strokeStyle = '#444';
    ctx.lineWidth = 1;
    ctx.strokeRect(Math.round(a.left) + 0.5, Math.round(a.top) + 0.5, Math.round(a.width) - 1, Math.round(a.height) - 1);
    ctx.restore();
  }
};

function axis(dir, lim, ticks, labels, size) {
  return {
    type: 'linear',
    min: lim[0],
    max: lim[1],
    border: { color: '#444', width: 1 },
    grid: { drawOnChartArea: false, drawTicks: true, tickLength: 5, color: '#444' },
    ticks: {
      autoSkip: false,
      maxRotation: 0,
      padding: dir === 'x' ? 0 : 4,
      color: '#000',
      font: { family: serif, size: 31, lineHeight: 1 },
      callback: (v, i) => (labels ? labels[i] : '')
    },
    afterBuildTicks: s => { s.ticks = ticks.map(v => ({ value: v })); },
    afterFit: s => {
      if (dir === 'x') { s.height = size; s.paddingLeft = 0; s.paddingRight = 0; }
      else { s.width = size; s.paddingTop = 0; s.paddingBottom = 0; }
    }
  };
}

function panel(col, row, dataset, xAxis, yAxis) {
  const last = row === rowTop.length - 1;
  const padB = last ? 46 : 10;
  const canvas = document.createElement('canvas');
  canvas.width = padL + boxW + padR;
  canvas.height = padT + boxH + padB;
  canvas.style.left = (colLeft[col] - padL) + 'px';
  canvas.style.top = (rowTop[row] - padT) + 'px';
  page.appendChild(canvas);
  new Chart(canvas, {
    type: 'line',
    data: { datasets: [dataset] },
    options: {
      responsive: false,
      animation: false,
      devicePixelRatio: 1,
      layout: { padding: { left: 0, top: padT, right: padR, bottom: 0 } },
      plugins: { legend: { display: false }, tooltip: { enabled: false } },
      scales: {
        x: axis('x', xAxis.lim, xAxis.ticks, last ? xAxis.labels : null, padB),
        y: axis('y', yAxis.lim, yAxis.ticks, yAxis.labels, padL)
      }
    },
    plugins: [frame]
  });
}

signals.forEach((sig, row) => {
  const t = samples(tRange, sig.length);
  panel(0, row,
    { data: sig.map((v, i) => ({ x: t[i], y: v })), borderColor: '#0000ff', borderWidth: 1.5, pointRadius: 0, tension: 0 },
    { lim: [149.5, 160.5], ticks: timeTicks, labels: timeLabels },
    { lim: sigLimits[row], ticks: sigTicks, labels: sigLabels });
});

spectra.forEach((spec, row) => {
  const f = samples(fRange, spec.length);
  panel(1, row,
    { data: spec.map((v, i) => ({ x: f[i], y: v })), borderColor: '#ff0000', borderWidth: 1.3, pointRadius: 0, tension: 0 },
    { lim: [-6.6, 138.6], ticks: freqTicks, labels: freqLabels },
    { lim: specLimits[row], ticks: specTicks[row], labels: specLabels[row] });
});

amps.forEach((amp, row) => {
  const last = row === amps.length - 1;
  panel(2, row,
    { data: amp.map((v, i) => ({ x: diagPos[i], y: v })), borderColor: '#1f77b4', borderWidth: 1.5,
      pointRadius: 3.5, pointBackgroundColor: '#1f77b4', pointBorderWidth: 0, tension: 0 },
    { lim: [-0.25, 5.25], ticks: last ? diagLastTicks : diagTicks, labels: diagLabels },
    { lim: ampLimits[row], ticks: ampTicks, labels: ampLabels });
});
</script>
</body>
</html>
